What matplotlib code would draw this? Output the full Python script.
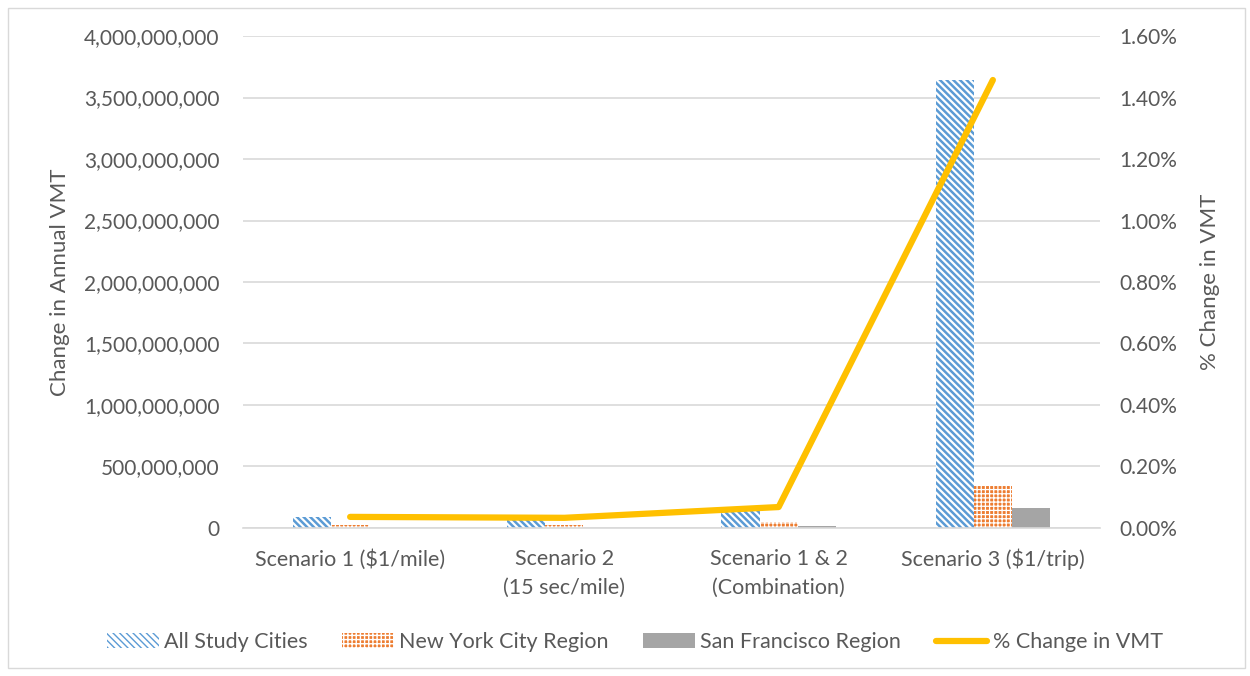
import matplotlib.pyplot as plt
import matplotlib.ticker as mticker
import numpy as np

plt.rcParams['font.family'] = ['Lato', 'DejaVu Sans']

scenarios = ["Scenario 1 ($1/mile)", "Scenario 2\n(15 sec/mile)",
             "Scenario 1 & 2\n(Combination)", "Scenario 3 ($1/trip)"]
all_cities = [88e6, 80e6, 140e6, 3.64e9]
nyc_region = [28e6, 25e6, 50e6, 350e6]
sf_region = [3e6, 3e6, 15e6, 162e6]
pct_change = [0.036, 0.033, 0.068, 1.457]  # percent

grey = "#595959"
x = np.arange(len(scenarios))
w = 0.178

fig = plt.figure(figsize=(12.5, 6.76), dpi=100)
fig.patches.append(plt.Rectangle((0.006, 0.012), 0.99, 0.976, transform=fig.transFigure,
                                 fill=False, edgecolor="#D9D9D9", lw=1))
ax = fig.add_axes([0.1944, 0.219, 0.6856, 0.7277])

with plt.rc_context({"hatch.linewidth": 1.8}):
    b1 = ax.bar(x - w, all_cities, w, facecolor="white", edgecolor="#5B9BD5",
                hatch="\\\\\\\\\\", lw=0, label="All Study Cities")
with plt.rc_context({"hatch.linewidth": 0.9}):
    b2 = ax.bar(x, nyc_region, w, facecolor="#ED7D31", edgecolor="white",
                hatch="++++", lw=0, label="New York City Region")
b3 = ax.bar(x + w, sf_region, w, color="#A5A5A5", lw=0, label="San Francisco Region")

ax.set_ylim(0, 4e9)
ax.set_xlim(-0.5, 3.5)
ax.yaxis.set_major_locator(mticker.MultipleLocator(5e8))
ax.yaxis.set_major_formatter(mticker.FuncFormatter(lambda v, p: f"{v:,.0f}"))
ax.grid(axis="y", color="#D9D9D9", lw=1.2)
ax.set_axisbelow(True)
for s in ["top", "right", "left"]:
    ax.spines[s].set_visible(False)
ax.spines["bottom"].set_color("#D9D9D9")
ax.spines["bottom"].set_linewidth(1.2)
ax.set_xticks(x)
ax.set_xticklabels(scenarios, fontsize=15.5, color=grey, linespacing=1.55)
ax.tick_params(axis="both", length=0, labelcolor=grey)
ax.tick_params(axis="y", pad=17, labelsize=15)
ax.tick_params(axis="x", pad=15)
ax.set_ylabel("Change in Annual VMT", fontsize=16, color=grey, labelpad=10)

ax2 = ax.twinx()
l1, = ax2.plot(x, pct_change, color="#FFC000", lw=4.5, solid_capstyle="round",
               label="% Change in VMT")
ax2.set_ylim(0, 1.6)
ax2.yaxis.set_major_locator(mticker.MultipleLocator(0.2))
ax2.yaxis.set_major_formatter(mticker.FuncFormatter(lambda v, p: f"{v:.2f}%"))
for s in ax2.spines.values():
    s.set_visible(False)
ax2.tick_params(axis="y", length=0, labelsize=15, labelcolor=grey, pad=14)
ax2.set_ylabel("% Change in VMT", fontsize=16, color=grey, labelpad=16)

leg = fig.legend([b1, b2, b3, l1],
                 ["All Study Cities", "New York City Region", "San Francisco Region", "% Change in VMT"],
                 loc="center", bbox_to_anchor=(0.508, 0.05), ncol=4, frameon=False,
                 fontsize=15.5, handlelength=2.4, handletextpad=0.25, columnspacing=1.6)
for t in leg.get_texts():
    t.set_color(grey)

fig.savefig("out.png", dpi=100)
